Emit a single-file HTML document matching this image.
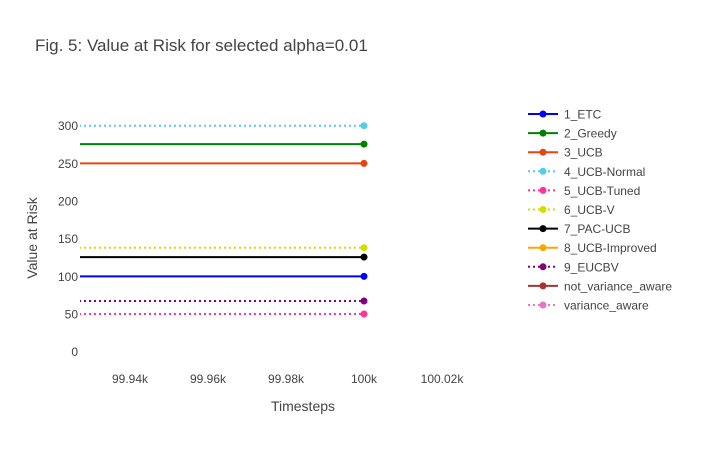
<!DOCTYPE html>
<html><head><meta charset="utf-8"><style>
body{margin:0;background:#fff;font-family:"Liberation Sans",Arial,sans-serif}
text{font-family:"Liberation Sans",Arial,sans-serif;fill:#444}
</style></head><body>
<svg id="chart" width="702" height="450">
<rect width="702" height="450" fill="#fff"/>
<text x="35" y="51" font-size="17">Fig. 5: Value at Risk for selected alpha=0.01</text>
<defs><clipPath id="clip"><rect x="80" y="100" width="425" height="275"/></clipPath></defs>
<g id="yticks"></g><g id="xticks"></g>
<g id="series" clip-path="url(#clip)"></g>
<g id="markers"></g>
<g id="legend"></g>
<text x="303" y="411" font-size="14" text-anchor="middle">Timesteps</text>
<text transform="translate(37,238) rotate(-90)" font-size="14" text-anchor="middle">Value at Risk</text>
</svg>
<script>
const names=["1_ETC","2_Greedy","3_UCB","4_UCB-Normal","5_UCB-Tuned","6_UCB-V","7_PAC-UCB","8_UCB-Improved","9_EUCBV","not_variance_aware","variance_aware"];
const colors=["#0000ff","#008000","#e8440f","#55ccee","#ff3399","#d4dd00","#000000","#ffa500","#800080","#a83232","#e377c2"];
const dashed=[false,false,false,true,true,true,false,false,true,false,true];
const values=[100,275.6,250,300,50,138,125.6,null,67.3,null,null];
const xTicks=[99940,99960,99980,100000,100020];
const xTickLabels=["99.94k","99.96k","99.98k","100k","100.02k"];
const yTicks=[0,50,100,150,200,250,300];
const lastX=100000, firstX=99900;
const X=v=>364+(v-100000)*3.9;
const Y=v=>351.7-v*0.7533;
const ns="http://www.w3.org/2000/svg";
function mk(tag,attrs,parent){const e=document.createElementNS(ns,tag);for(const k in attrs)e.setAttribute(k,attrs[k]);document.getElementById(parent).appendChild(e);return e;}
yTicks.forEach(t=>{const e=mk("text",{x:78,y:Y(t)+4.5,"font-size":12,"text-anchor":"end"},"yticks");e.textContent=t;

});
xTicks.forEach((t,i)=>{const e=mk("text",{x:X(t),y:383,"font-size":12,"text-anchor":"middle"},"xticks");e.textContent=xTickLabels[i];

});
values.forEach((v,i)=>{if(v===null)return;
const l=mk("line",{x1:X(firstX),x2:X(lastX),y1:Y(v),y2:Y(v),stroke:colors[i],"stroke-width":2,"stroke-dasharray":dashed[i]?"2,3":""},"series");


const c=mk("circle",{cx:X(lastX),cy:Y(v),r:3.5,fill:colors[i]},"markers");

});
names.forEach((n,i)=>{const y=114+i*19.1;
const l=mk("line",{x1:528,x2:558,y1:y,y2:y,stroke:colors[i],"stroke-width":2,"stroke-dasharray":dashed[i]?"2,3":""},"legend");


mk("circle",{cx:543,cy:y,r:3.5,fill:colors[i]},"legend");
const t=mk("text",{x:564,y:y+4.5,"font-size":12},"legend");t.textContent=n;

});
</script>
</body></html>
